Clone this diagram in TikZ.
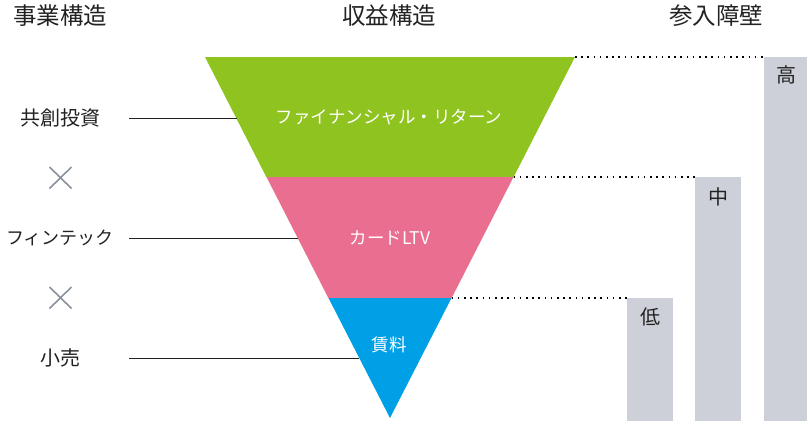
\documentclass[tikz,border=0pt]{standalone}
\usepackage{fontspec}
\setmainfont{Noto Sans CJK JP}
\definecolor{lvgreen}{HTML}{8FC31F}
\definecolor{lvpink}{HTML}{E96E8F}
\definecolor{lvblue}{HTML}{00A0E6}
\definecolor{bargray}{HTML}{CDD0D8}
\definecolor{crossgray}{HTML}{8A929E}
\definecolor{txtdark}{HTML}{222222}
\begin{document}
\begin{tikzpicture}[x=1pt,y=-1pt,
  header/.style={font=\fontsize{23.5}{26}\selectfont, text=txtdark, inner sep=0pt},
  sidelabel/.style={font=\fontsize{20}{22}\selectfont, text=txtdark, inner sep=0pt},
  kanalabel/.style={font=\fontsize{18}{20}\selectfont, text=txtdark, inner sep=0pt},
  inlabel/.style={font=\fontsize{17.5}{20}\selectfont, text=white, inner sep=0pt},
  barlabel/.style={font=\fontsize{20}{22}\selectfont, text=txtdark, inner sep=0pt},
  leader/.style={draw=txtdark, line width=1pt},
  dotline/.style={draw=black, line width=1.6pt, dash pattern=on 1.6pt off 4.6pt},
  crossmark/.style={draw=crossgray, line width=1.6pt}]
\useasboundingbox (0,0) rectangle (807,421);
% funnel
\fill[lvgreen] (205,57) -- (575,57) -- (513.5,177.3) -- (266.5,177.3) -- cycle;
\fill[lvpink] (266.5,177) -- (513.5,177) -- (451.5,298.3) -- (328.5,298.3) -- cycle;
\fill[lvblue] (328.5,298) -- (451.5,298) -- (390,418) -- cycle;
\coordinate (g1) at (575,57);
\coordinate (p1) at (513.5,177);
\coordinate (b1) at (451.5,298);
\coordinate (e1) at (236.5,118);
\coordinate (e2) at (298,238);
\coordinate (e3) at (359,358);
% bars
\fill[bargray] (627,298) rectangle (673,421);
\fill[bargray] (695,177) rectangle (741,421);
\fill[bargray] (764,57) rectangle (807,421);
\coordinate (bl) at (627,298);
\coordinate (bm) at (695,177);
\coordinate (bh) at (764,57);
\path[dotline] (b1) -- (bl);
\path[dotline] (p1) -- (bm);
\path[dotline] (g1) -- (bh);
% headers
\node[header] (h1) at (60,16) {事業構造};
\node[header] (h2) at (389,16) {収益構造};
\node[header] (h3) at (716,16) {参入障壁};
% inside labels
\node[inlabel] (f1) at (389,117) {ファイナンシャル・リターン};
\node[inlabel] (f2) at (390,238) {カードLTV};
\node[inlabel] (f3) at (389,345) {賃料};
% bar labels
\node[barlabel] (k1) at (786,75) {高};
\node[barlabel] (k2) at (718,196.5) {中};
\node[barlabel] (k3) at (650,316.5) {低};
% side labels
\node[sidelabel] (s1) at (60,118) {共創投資};
\node[kanalabel] (s2) at (60,238) {フィンテック};
\node[sidelabel] (s3) at (60,358) {小売};
\coordinate (l1) at (129,118);
\coordinate (l2) at (129,238);
\coordinate (l3) at (129,358);
\path[leader] (l1) -- (e1);
\path[leader] (l2) -- (e2);
\path[leader] (l3) -- (e3);
% crosses
\coordinate (x1a) at (49.5,167);
\coordinate (x1b) at (71.5,188.5);
\coordinate (x1c) at (49.5,188.5);
\coordinate (x1d) at (71.5,167);
\path[crossmark] (x1a) -- (x1b) (x1c) -- (x1d);
\coordinate (x2a) at (49.5,287);
\coordinate (x2b) at (71.5,308.5);
\coordinate (x2c) at (49.5,308.5);
\coordinate (x2d) at (71.5,287);
\path[crossmark] (x2a) -- (x2b) (x2c) -- (x2d);
\end{tikzpicture}
\end{document}
